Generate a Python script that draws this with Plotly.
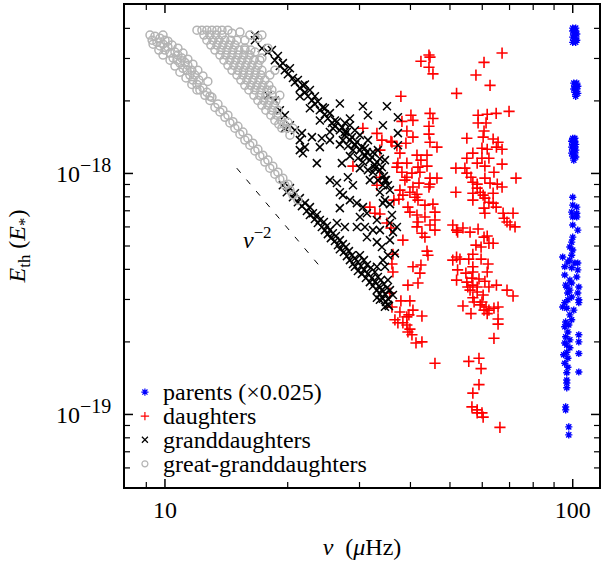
import numpy as np
import plotly.graph_objects as go

# (nu in muHz, E_th in units of 1e-18 E_*)
parents = [
    (100.0, 4.01), (101.7, 4.01), (100.0, 3.90), (101.7, 3.90), (100.6, 3.79), (102.3, 3.79),
    (100.0, 3.68), (101.7, 3.68), (100.6, 3.57), (102.3, 3.57), (100.0, 3.50), (101.7, 3.50),
    (100.6, 2.37), (102.3, 2.37), (101.2, 2.30), (102.9, 2.30), (100.6, 2.24), (102.3, 2.24),
    (101.2, 2.17), (102.9, 2.15), (101.7, 2.09),
    (100.0, 1.40), (101.2, 1.40), (99.4, 1.36), (101.2, 1.36), (100.0, 1.32), (101.7, 1.32),
    (99.4, 1.286), (101.2, 1.286), (100.0, 1.25), (101.7, 1.25), (99.4, 1.214), (101.2, 1.214),
    (100.0, 1.18), (101.7, 1.17), (100.6, 1.136),
    (100.0, 0.797), (100.0, 0.739), (102.3, 0.725), (99.4, 0.691), (102.3, 0.684), (100.0, 0.66),
    (102.3, 0.66), (100.0, 0.611), (102.9, 0.582), (100.0, 0.544), (99.4, 0.519), (98.4, 0.495),
    (100.0, 0.481), (94.5, 0.450), (99.4, 0.458), (98.4, 0.437), (101.2, 0.425), (102.9, 0.425),
    (95.6, 0.410), (99.4, 0.406), (102.9, 0.398), (95.6, 0.379), (102.3, 0.372), (98.4, 0.361),
    (99.4, 0.351), (96.7, 0.338), (103.5, 0.338), (98.4, 0.328), (102.9, 0.319), (97.2, 0.319),
    (99.4, 0.307), (103.5, 0.299), (103.5, 0.291), (95.6, 0.291), (94.5, 0.279), (96.7, 0.276),
    (99.4, 0.247), (96.1, 0.242), (95.6, 0.231), (97.3, 0.220), (103.5, 0.214), (96.1, 0.210),
    (98.4, 0.204), (103.5, 0.200), (95.6, 0.198), (98.4, 0.189), (96.7, 0.181), (103.5, 0.179),
    (95.0, 0.177), (97.3, 0.171), (95.6, 0.163), (97.3, 0.157), (103.5, 0.150), (96.7, 0.149),
    (96.7, 0.139), (96.7, 0.135), (96.7, 0.129), (96.1, 0.1075), (96.1, 0.1045), (97.8, 0.0888),
    (97.8, 0.0823), (97.3, 0.429), (96.1, 0.344), (97.3, 0.299), (98.4, 0.259), (100.6, 0.271),
    (96.7, 0.194), (97.8, 0.235),
]

daughters = [
    (42.44, 2.92), (44.41, 3.10), (44.66, 3.04), (44.41, 2.76), (45.42, 2.59), (37.90, 2.09),
    (44.66, 1.775), (45.42, 1.69), (40.57, 1.66), (38.12, 1.645), (40.11, 1.745), (44.41, 1.57),
    (39.20, 1.50), (44.41, 1.456), (40.57, 1.415), (44.66, 1.348), (46.46, 1.286), (38.99, 1.335),
    (36.03, 1.348), (37.05, 1.30), (37.69, 1.214), (41.5, 1.191), (43.92, 1.191), (42.44, 1.136),
    (37.26, 1.104), (39.20, 1.104), (41.74, 1.062), (43.92, 1.072), (37.05, 1.062), (38.12, 1.012),
    (40.34, 1.003), (42.2, 1.012), (39.20, 0.965), (44.66, 0.956), (46.46, 0.956), (38.77, 0.938),
    (40.57, 0.878), (41.97, 0.912), (37.69, 0.853), (39.88, 0.836), (41.5, 0.820), (44.41, 0.878),
    (44.66, 0.903), (38.33, 0.813), (36.43, 0.775), (37.47, 0.782), (41.74, 0.775), (41.03, 0.797),
    (43.41, 0.739), (45.42, 0.746), (39.43, 0.725), (39.88, 0.691), (45.94, 0.691), (41.5, 0.672),
    (43.41, 0.660), (41.74, 0.629), (44.66, 0.611), (45.94, 0.641), (41.5, 0.600), (45.94, 0.582),
    (42.68, 0.565), (43.41, 0.544), (35.03, 0.623), (35.83, 0.594), (33.66, 0.679),
    (33.1, 1.466), (34.04, 1.375), (35.83, 1.36), (33.66, 1.25), (28.91, 1.072), (30.58, 1.54),
    (33.1, 0.894), (33.66, 0.965), (31.81, 0.725), (32.73, 0.684),
    (67.1, 3.16), (60.6, 2.89), (57.9, 2.56), (62.7, 2.32), (51.9, 2.15), (69.8, 1.81),
    (64.9, 1.775), (61.7, 1.76), (58.6, 1.745), (58.6, 1.62), (61.3, 1.62), (60.6, 1.50),
    (55.0, 1.40), (60.3, 1.415), (63.8, 1.39), (65.6, 1.348), (65.0, 1.286), (67.1, 1.26),
    (61.7, 1.26), (59.9, 1.273), (56.9, 1.214), (55.0, 1.157), (59.9, 1.157), (62.3, 1.157),
    (58.3, 1.104), (60.9, 1.072), (67.1, 1.093), (64.1, 1.012), (51.7, 1.052), (54.4, 1.052),
    (55.0, 1.003), (56.3, 0.965), (56.9, 0.920), (58.3, 0.903), (60.9, 0.956), (72.6, 0.956),
    (58.3, 0.869), (59.3, 0.836), (60.3, 0.813), (62.7, 0.912), (65.3, 0.903), (67.1, 0.878),
    (51.7, 0.836), (56.9, 0.828), (56.9, 0.775), (60.9, 0.790), (63.8, 0.828), (62.3, 0.760),
    (63.8, 0.753), (64.9, 0.725), (60.6, 0.718), (60.9, 0.684), (67.5, 0.684), (71.4, 0.684),
    (67.9, 0.652), (69.0, 0.629), (70.2, 0.611), (72.2, 0.600), (50.8, 0.611), (53.8, 0.594),
    (56.0, 0.571), (58.6, 0.588), (61.7, 0.550), (52.2, 0.571),
    (38.33, 0.529), (43.92, 0.476), (44.16, 0.458), (40.57, 0.410), (42.44, 0.417), (42.2, 0.386),
    (36.23, 0.462), (36.03, 0.421), (36.23, 0.390), (39.43, 0.344), (41.74, 0.351), (35.62, 0.319),
    (37.9, 0.296), (39.88, 0.296), (36.03, 0.279), (37.69, 0.266), (40.57, 0.271), (42.68, 0.256),
    (39.65, 0.259), (39.2, 0.254), (36.64, 0.247), (37.26, 0.240), (38.33, 0.240), (39.2, 0.235),
    (39.88, 0.226), (39.43, 0.220), (40.34, 0.214), (41.27, 0.198), (42.68, 0.200), (45.94, 0.163),
    (51.9, 0.582), (60.6, 0.544), (57.9, 0.504), (62.3, 0.513), (63.8, 0.513), (59.6, 0.495),
    (56.9, 0.462), (51.9, 0.450), (52.9, 0.441), (50.8, 0.437), (55.6, 0.441), (59.6, 0.441),
    (62.0, 0.421), (56.9, 0.410), (54.7, 0.386), (56.9, 0.390), (61.7, 0.390), (52.2, 0.398),
    (51.9, 0.361), (55.0, 0.354), (56.6, 0.368), (58.9, 0.365), (60.9, 0.357), (56.9, 0.344),
    (55.3, 0.338), (58.3, 0.338), (65.0, 0.344), (62.3, 0.338), (69.0, 0.328), (71.4, 0.310),
    (56.0, 0.328), (58.3, 0.322), (60.3, 0.313), (56.9, 0.305), (57.3, 0.293), (59.9, 0.293),
    (59.3, 0.285), (61.3, 0.279), (62.3, 0.271), (64.1, 0.276), (65.6, 0.279), (60.6, 0.271),
    (61.7, 0.262), (53.8, 0.282), (56.3, 0.262), (65.6, 0.249), (65.6, 0.237), (64.1, 0.207),
    (55.6, 0.166), (58.9, 0.171), (59.6, 0.155), (58.9, 0.133), (56.9, 0.1226), (56.6, 0.1075),
    (58.3, 0.1045), (58.3, 0.1015), (59.9, 0.1015), (60.3, 0.0975), (66.3, 0.0884),
]

granddaughters = [
    (16.62, 3.75), (16.62, 3.57), (17.29, 3.31), (17.88, 3.19), (18.29, 3.25), (18.60, 2.95),
    (18.92, 3.07), (19.13, 2.79), (19.46, 2.87), (19.68, 2.68), (20.02, 2.58), (20.25, 2.73),
    (20.60, 2.49), (20.83, 2.39), (21.18, 2.44), (21.42, 2.26), (21.79, 2.32), (22.04, 2.17),
    (22.42, 2.09), (22.67, 2.22), (22.93, 2.01), (23.32, 1.94), (23.71, 1.99), (23.98, 1.83),
    (24.39, 1.88), (24.67, 1.76), (25.09, 1.69), (25.38, 1.78), (25.67, 1.62), (26.11, 1.57),
    (26.41, 1.64), (26.85, 1.51), (27.16, 1.55), (27.62, 1.442), (27.94, 1.485), (28.42, 1.375),
    (28.74, 1.415), (29.23, 1.31), (29.56, 1.35), (30.07, 1.25), (30.41, 1.286), (30.93, 1.191),
    (31.28, 1.226), (31.81, 1.136), (32.17, 1.17), (32.73, 1.083), (33.1, 1.115), (33.66, 1.032),
    (34.04, 1.062), (34.43, 0.975), (34.83, 0.938), (35.22, 0.894), (35.62, 0.853), (34.63, 1.136),
    (33.28, 1.25), (31.46, 1.375), (30.07, 1.442), (28.42, 1.586), (27.62, 1.62), (29.23, 1.51),
    (30.93, 1.273), (32.36, 1.226), (33.66, 1.15),
    (21.42, 2.09), (22.67, 1.865), (23.98, 1.66), (25.38, 1.485), (26.85, 1.32), (28.42, 1.18),
    (30.07, 1.052), (31.81, 0.938), (33.66, 0.836), (35.62, 0.746),
    (22.04, 2.34), (23.32, 2.09), (24.67, 1.865), (26.11, 1.66), (27.62, 1.485), (29.23, 1.32),
    (30.93, 1.18), (32.73, 1.052), (34.63, 0.938),
    (25.81, 1.54), (27.31, 1.375), (28.91, 1.25), (30.58, 1.115), (32.36, 1.012), (34.24, 0.894),
    (28.10, 1.30), (29.73, 1.157), (31.46, 1.032), (33.28, 0.938),
    (17.88, 2.11), (18.60, 2.01), (19.13, 1.83), (19.68, 1.745), (20.25, 1.586), (20.83, 1.51),
    (19.68, 1.54), (21.42, 1.375), (21.67, 1.47),
    (26.85, 1.95), (30.58, 1.90), (35.03, 1.90), (31.46, 1.745), (28.42, 1.69), (34.24, 1.586),
    (37.26, 1.71), (37.26, 1.47), (37.26, 1.31), (25.38, 0.938), (23.58, 1.104), (24.25, 1.40),
    (22.93, 1.415), (22.04, 1.286), (21.79, 1.214), (26.85, 0.836), (27.16, 1.104), (21.42, 1.25),
    (23.98, 1.286), (25.38, 1.375), (26.41, 0.912), (28.10, 0.965), (28.91, 0.894), (27.31, 0.813),
    (28.42, 0.775), (29.56, 0.753), (30.58, 0.725), (26.85, 0.718), (31.28, 0.684), (33.1, 0.641),
    (30.07, 0.66), (26.41, 0.623), (27.62, 0.600), (29.56, 0.600), (30.93, 0.600), (32.36, 0.582),
    (33.66, 0.582), (31.28, 0.544), (33.1, 0.519), (34.04, 0.495), (34.24, 0.437), (34.63, 0.410),
    (33.1, 0.410), (34.24, 0.753), (34.63, 0.775), (35.62, 0.623), (37.05, 0.600), (36.23, 0.571),
    (36.03, 0.672), (35.62, 0.529), (35.22, 0.458), (36.64, 0.466), (36.23, 0.313), (35.22, 0.285),
    (19.46, 0.894), (19.90, 0.836), (20.25, 0.869), (20.60, 0.797), (20.83, 0.828), (21.18, 0.760),
    (21.42, 0.790), (21.67, 0.732), (22.04, 0.753), (22.29, 0.698), (22.67, 0.725), (22.67, 0.672),
    (23.06, 0.684), (23.32, 0.647), (23.58, 0.672), (23.71, 0.623), (23.98, 0.641), (24.25, 0.600),
    (24.53, 0.629), (24.67, 0.582), (24.95, 0.605), (25.09, 0.560), (25.38, 0.582), (25.52, 0.539),
    (25.81, 0.565), (26.11, 0.524), (26.26, 0.550), (26.56, 0.504), (26.85, 0.529), (26.85, 0.485),
    (27.31, 0.509), (27.47, 0.472), (27.78, 0.495), (27.94, 0.454), (28.26, 0.476), (28.42, 0.437),
    (28.74, 0.458), (28.91, 0.421), (29.23, 0.445), (29.23, 0.410), (29.73, 0.429), (29.73, 0.394),
    (30.07, 0.458), (30.24, 0.413), (30.41, 0.383), (30.75, 0.437), (30.75, 0.398), (31.10, 0.368),
    (31.28, 0.417), (31.46, 0.383), (31.81, 0.354), (31.99, 0.406), (32.17, 0.368), (32.36, 0.341),
    (32.73, 0.390), (32.73, 0.354), (33.1, 0.328), (33.28, 0.372), (33.47, 0.341), (33.66, 0.316),
    (33.85, 0.361), (34.04, 0.328), (34.24, 0.302), (34.43, 0.348), (34.63, 0.316), (34.83, 0.293),
    (35.03, 0.335), (35.22, 0.302), (35.42, 0.282), (33.66, 0.299), (34.63, 0.280), (33.1, 0.305),
    (35.22, 0.361), (35.62, 0.328),
]

great_granddaughters = [
    (9.19, 3.75), (9.30, 3.57), (9.45, 3.71), (9.56, 3.50), (9.72, 3.64), (9.72, 3.38),
    (9.89, 3.44), (10.0, 3.57), (10.0, 3.25), (10.17, 3.35), (10.29, 3.16), (10.41, 3.41),
    (10.47, 3.01), (10.58, 3.19), (10.70, 2.95), (10.76, 3.10), (10.88, 2.87), (11.0, 3.01),
    (11.07, 2.73), (11.19, 2.89), (11.32, 2.68), (11.38, 2.81), (11.51, 2.56), (11.64, 2.68),
    (11.71, 2.44), (11.84, 2.56), (11.98, 2.34), (12.11, 2.44), (12.18, 2.22), (12.39, 2.26),
    (12.53, 2.11), (12.67, 2.17), (12.89, 2.01), (13.04, 2.07), (13.26, 1.88), (13.49, 1.94),
    (13.64, 1.80), (13.87, 1.83), (14.03, 1.71), (14.27, 1.745), (14.43, 1.62), (14.68, 1.64),
    (14.84, 1.54), (15.10, 1.57), (15.27, 1.456), (15.53, 1.485), (15.70, 1.375), (15.97, 1.40),
    (16.15, 1.31), (16.43, 1.335), (16.62, 1.24), (16.90, 1.26), (17.09, 1.18), (17.38, 1.191),
    (17.58, 1.115), (17.88, 1.136), (18.08, 1.052), (18.39, 1.072), (18.60, 0.993), (18.92, 1.012),
    (19.13, 0.946), (19.46, 0.956), (19.68, 0.894), (20.02, 0.903), (20.25, 0.853), (20.60, 0.813),
    (21.18, 0.775),
    (9.35, 3.44), (9.66, 3.25), (9.89, 3.75), (10.17, 3.54), (9.89, 3.10), (10.29, 2.95),
    (10.58, 2.79), (10.76, 3.31), (11.07, 3.16), (10.88, 2.63), (11.38, 2.98), (11.26, 2.49),
    (11.71, 2.84), (11.64, 2.34), (12.04, 2.68), (11.98, 2.22), (12.39, 2.54), (12.74, 2.41),
    (12.89, 2.09),
    (11.98, 3.93), (12.32, 3.93), (12.67, 3.93), (13.04, 3.93), (13.41, 3.93), (13.80, 3.93),
    (14.27, 3.93), (14.60, 3.82), (15.27, 3.86), (15.70, 3.57), (16.15, 3.75), (16.90, 3.64),
    (17.29, 3.75), (12.46, 3.75), (12.89, 3.75), (13.33, 3.75), (13.80, 3.75),
    (12.67, 3.57), (13.11, 3.57), (13.56, 3.57), (14.03, 3.57), (14.51, 3.57), (15.01, 3.57),
    (15.70, 3.31), (16.62, 3.19), (12.96, 3.41), (13.41, 3.41), (13.87, 3.41), (14.35, 3.41),
    (14.84, 3.41), (13.26, 3.25), (13.72, 3.25), (14.19, 3.25), (14.68, 3.25), (15.18, 3.25),
    (15.70, 3.25), (16.24, 3.25), (17.29, 3.01), (17.88, 3.31),
    (13.64, 3.10), (14.11, 3.10), (14.60, 3.10), (15.10, 3.10), (15.61, 3.10), (16.15, 3.10),
    (13.95, 2.95), (14.43, 2.95), (14.93, 2.95), (15.44, 2.95), (15.97, 2.95), (16.52, 2.95),
    (17.09, 2.95), (14.27, 2.81), (14.76, 2.81), (15.27, 2.81), (15.79, 2.81), (16.34, 2.81),
    (16.90, 2.81), (14.60, 2.68), (15.10, 2.68), (15.61, 2.68), (16.15, 2.68), (16.71, 2.68),
    (17.29, 2.68), (15.01, 2.56), (15.53, 2.56), (16.06, 2.56), (16.62, 2.56), (17.19, 2.56),
    (15.35, 2.44), (15.88, 2.44), (16.43, 2.44), (17.0, 2.44), (17.58, 2.44), (18.08, 2.56),
    (18.60, 2.68), (15.70, 2.32), (16.24, 2.32), (16.81, 2.32), (17.38, 2.32), (17.98, 2.32),
    (16.06, 2.22), (16.62, 2.22), (17.19, 2.22), (17.78, 2.22), (18.29, 2.22),
    (16.52, 2.11), (17.09, 2.11), (17.68, 2.11), (18.29, 2.11), (16.90, 2.01), (17.48, 2.01),
    (18.08, 2.01), (18.71, 2.01), (17.29, 1.92), (17.88, 1.92), (18.50, 1.92),
    (17.68, 1.83), (18.29, 1.83), (18.92, 1.83), (18.18, 1.745), (18.81, 1.745),
    (18.60, 1.66), (19.24, 1.66), (19.02, 1.60), (19.57, 1.60), (19.35, 1.54), (19.90, 1.54),
    (20.25, 1.442), (20.02, 1.63), (19.13, 2.11), (20.60, 1.54),
]

series_names = ["parents (×0.025)", "daughters", "granddaughters", "great-granddaughters"]

# nu^-2 guide line end points
guide_nu = [15.0, 24.0]
guide_E = [1.052, 0.411]

x_major = [10, 100]
x_minor = [9, 20, 30, 40, 50, 60, 70, 80, 90]
y_major = [1e-19, 1e-18]
y_minor = [6e-20, 7e-20, 8e-20, 9e-20, 2e-19, 3e-19, 4e-19, 5e-19, 6e-19, 7e-19,
           8e-19, 9e-19, 2e-18, 3e-18, 4e-18]


def split(pairs):
    nu = [p[0] for p in pairs]
    e = [p[1] * 1e-18 for p in pairs]
    return nu, e


font = "Liberation Serif"
styles = [
    dict(symbol="asterisk-open", size=6, color="#0000ff", line=dict(color="#0000ff", width=1.4)),
    dict(symbol="cross-thin-open", size=8, color="#ff0000", line=dict(color="#ff0000", width=1.6)),
    dict(symbol="x-thin-open", size=8, color="black", line=dict(color="black", width=1.5)),
    dict(symbol="circle-open", size=8, color="#b4b4b4", line=dict(color="#b4b4b4", width=1.5)),
]

fig = go.Figure()
for pairs, name, st in zip([parents, daughters, granddaughters, great_granddaughters],
                           series_names, styles):
    x, y = split(pairs)
    fig.add_trace(go.Scatter(x=x, y=y, mode="markers", name=name, marker=st,
                             showlegend=False))

fig.add_trace(go.Scatter(x=guide_nu, y=[v * 1e-18 for v in guide_E], mode="lines",
                         showlegend=False,
                         line=dict(color="black", width=1, dash="6px,9px")))

fig.add_annotation(x=np.log10(16.9), y=np.log10(0.54e-18), text="<i>ν</i><sup>−2</sup>",
                   showarrow=False, font=dict(family=font, size=24, color="black"))

# key drawn by hand so the rows sit as tightly as in the original
key_rows = [0.197, 0.147, 0.098, 0.048]
for name, st, ry in zip(series_names, styles, key_rows):
    key_st = dict(st)
    key_st["size"] = 6
    key_st["line"] = dict(st["line"], width=1.2)
    fig.add_trace(go.Scatter(x=[0.042], y=[ry], xaxis="x2", yaxis="y2", mode="markers",
                             marker=key_st, showlegend=False, hoverinfo="skip"))
    fig.add_annotation(x=0.075, y=ry, xref="x2", yref="y2", text=name, showarrow=False,
                       xanchor="left", yanchor="middle",
                       font=dict(family=font, size=24, color="black"))

# inward ticks on all four sides, drawn as short pixel-sized lines
# (shape positions on a log axis are given in data units)
for v in x_major + x_minor:
    ln, w = (8, 1.5) if v in x_major else (5, 1.2)
    for anchor, sign in ((0, 1), (1, -1)):
        fig.add_shape(type="line", xref="x", yref="paper", x0=v, x1=v,
                      ysizemode="pixel", yanchor=anchor, y0=0, y1=sign * ln,
                      line=dict(color="black", width=w))
for v in y_major + y_minor:
    ln, w = (8, 1.5) if v in y_major else (5, 1.2)
    for anchor, sign in ((0, 1), (1, -1)):
        fig.add_shape(type="line", yref="y", xref="paper", y0=v, y1=v,
                      xsizemode="pixel", xanchor=anchor, x0=0, x1=sign * ln,
                      line=dict(color="black", width=w))

sup = "<sup><span style='font-size:20px'>−{}</span></sup>"

fig.update_xaxes(type="log", range=[np.log10(7.98), np.log10(116)],
                 tickmode="array", tickvals=x_major, ticktext=["10", "100"], ticks="",
                 showline=True, linewidth=2, linecolor="black", mirror=True,
                 showgrid=False, zeroline=False, automargin=False,
                 tickfont=dict(family=font, size=24, color="black"),
                 title=dict(text="<i>ν</i>  (<i>μ</i>Hz)", standoff=16,
                            font=dict(family=font, size=24, color="black")))
fig.update_yaxes(type="log", range=[np.log10(5e-20), np.log10(5e-18)],
                 tickmode="array", tickvals=y_major,
                 ticktext=["10" + sup.format(19), "10" + sup.format(18)], ticks="",
                 ticklabelstandoff=7,
                 showline=True, linewidth=2, linecolor="black", mirror=True,
                 showgrid=False, zeroline=False, automargin=False,
                 tickfont=dict(family=font, size=24, color="black"),
                 title=dict(text="<i>E</i><sub>th</sub> (<i>E</i><sub>*</sub>)", standoff=24,
                            font=dict(family=font, size=24, color="black")))

fig.update_layout(width=604, height=561, margin=dict(l=125, r=5, t=5, b=74),
                  plot_bgcolor="white", paper_bgcolor="white",
                  font=dict(family=font, size=24, color="black"),
                  xaxis2=dict(overlaying="x", range=[0, 1], visible=False),
                  yaxis2=dict(overlaying="y", range=[0, 1], visible=False),
                  showlegend=False)

# the page's default body margin would shift the figure by 8px
fig.write_html("out.html", config={"displayModeBar": False},
               post_script="document.body.style.margin='0px';")
